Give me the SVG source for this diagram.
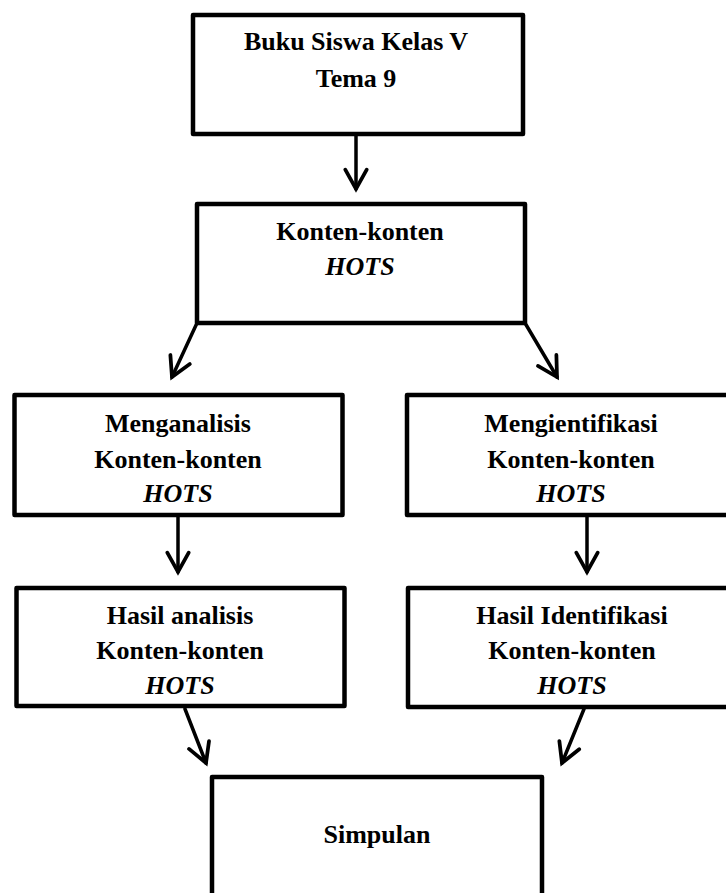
<svg xmlns="http://www.w3.org/2000/svg" width="726" height="893" viewBox="0 0 726 893">
<style>
.box{fill:#fff;stroke:#000;stroke-width:4.5;stroke-linejoin:round}
.t{font-family:"Liberation Serif","Times New Roman",serif;font-weight:bold;font-size:26px;text-anchor:middle;fill:#000}
.i{font-style:italic}
.c{fill:none;stroke:#000;stroke-width:3.5;stroke-linecap:round}
</style>
<defs>
<marker id="ah" markerUnits="userSpaceOnUse" markerWidth="30" markerHeight="30" viewBox="-22 -14 26 28" refX="0" refY="0" orient="auto">
<path d="M-18,-10 L0,0 L-18,10" fill="none" stroke="#000" stroke-width="3.5" stroke-linecap="round" stroke-linejoin="miter"/>
</marker>
</defs>
<rect width="726" height="893" fill="#fff"/>
<g id="connectors">
<line class="c" x1="356" y1="136" x2="356" y2="189" marker-end="url(#ah)"/>
<line class="c" x1="197" y1="323" x2="172" y2="377" marker-end="url(#ah)"/>
<line class="c" x1="525" y1="323" x2="557" y2="377" marker-end="url(#ah)"/>
<line class="c" x1="178" y1="517" x2="178" y2="572" marker-end="url(#ah)"/>
<line class="c" x1="587" y1="517" x2="587" y2="572" marker-end="url(#ah)"/>
<line class="c" x1="185" y1="709" x2="206" y2="763" marker-end="url(#ah)"/>
<line class="c" x1="584" y1="709" x2="562" y2="763" marker-end="url(#ah)"/>
</g>
<g id="n1">
<rect class="box" x="193" y="15" width="330" height="119"/>
<text class="t" x="356" y="50">Buku Siswa Kelas V</text>
<text class="t" x="356" y="87">Tema 9</text>
</g>
<g id="n2">
<rect class="box" x="197" y="204" width="328" height="119"/>
<text class="t" x="360" y="240">Konten-konten</text>
<text class="t i" x="360" y="275">HOTS</text>
</g>
<g id="n3">
<rect class="box" x="14.5" y="395" width="328" height="120"/>
<text class="t" x="178" y="432">Menganalisis</text>
<text class="t" x="178" y="468">Konten-konten</text>
<text class="t i" x="178" y="502">HOTS</text>
</g>
<g id="n4">
<rect class="box" x="407" y="395" width="330" height="120"/>
<text class="t" x="571" y="432">Mengientifikasi</text>
<text class="t" x="571" y="468">Konten-konten</text>
<text class="t i" x="571" y="502">HOTS</text>
</g>
<g id="n5">
<rect class="box" x="16.5" y="588" width="328" height="118"/>
<text class="t" x="180" y="624">Hasil analisis</text>
<text class="t" x="180" y="659">Konten-konten</text>
<text class="t i" x="180" y="694">HOTS</text>
</g>
<g id="n6">
<rect class="box" x="408" y="588" width="330" height="119"/>
<text class="t" x="572" y="624">Hasil Identifikasi</text>
<text class="t" x="572" y="659">Konten-konten</text>
<text class="t i" x="572" y="694">HOTS</text>
</g>
<g id="n7">
<rect class="box" x="212" y="777" width="330" height="130"/>
<text class="t" x="377" y="843">Simpulan</text>
</g>
</svg>
